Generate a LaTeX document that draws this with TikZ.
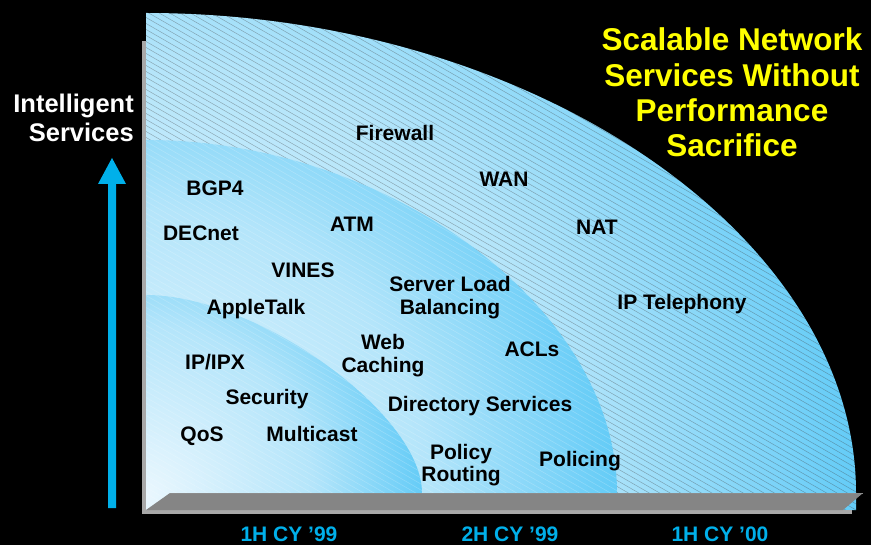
\documentclass[tikz,border=0pt]{standalone}
\usepackage{fontspec}
\setmainfont{Liberation Sans}
\definecolor{regA}{HTML}{EAF7FE}
\definecolor{regB}{HTML}{B4E5FA}
\definecolor{regC}{HTML}{62CBF7}
\definecolor{cyanarrow}{HTML}{00B0EA}
\definecolor{titleyellow}{HTML}{FFFF00}
\definecolor{floorgray}{HTML}{858585}
\definecolor{wallgray}{HTML}{A8A8A8}
\pgfdeclareradialshading{regshade}{\pgfpoint{0bp}{0bp}}{color(0bp)=(regA); color(15bp)=(regB); color(25bp)=(regC); color(50bp)=(regC)}
\begin{document}
\begin{tikzpicture}[x=1pt,y=-1pt,
  lbl/.style={font=\fontsize{21}{23}\selectfont\bfseries, text=black, anchor=base, inner sep=0pt},
  ttl/.style={font=\fontsize{31.5}{35}\selectfont\bfseries, text=titleyellow, anchor=base, inner sep=0pt},
  axl/.style={font=\fontsize{25.5}{28}\selectfont\bfseries, text=white, anchor=base east, inner sep=0pt},
  tml/.style={font=\fontsize{21}{23}\selectfont\bfseries, text=cyanarrow, anchor=base, inner sep=0pt},
  hatchdark/.style={draw=black!75, line width=0.45pt, opacity=0.4},
  hatchlight/.style={draw=white, line width=0.6pt, opacity=0.2}]
\useasboundingbox (0,0) rectangle (871,545);
\fill[black] (0,0) rectangle (871,545);
% outer region
\begin{scope}
  \clip (146,510) -- (146,13) .. controls (530,13) and (856,234) .. (856,493) -- (856,510) -- cycle;
  \shade[shading=regshade] (144,495) circle (720pt);
  \foreach \c in {-430,-424,...,515} \draw[hatchdark] (140,\c) -- ++(730,420);
\end{scope}
% middle region
\begin{scope}
  \clip (146,510) -- (146,140) .. controls (391,140) and (617,309) .. (617,493) -- (617,510) -- cycle;
  \shade[shading=regshade] (144,495) circle (475pt);
  \foreach \c in {-300,-294,...,515} \draw[hatchlight] (140,\c) -- ++(500,288);
\end{scope}
% inner region
\begin{scope}
  \clip (146,510) -- (146,295) .. controls (257,295) and (422,414) .. (422,493) -- (422,510) -- cycle;
  \shade[shading=regshade] (144,495) circle (282pt);
  \foreach \c in {100,106,...,515} \draw[hatchlight] (140,\c) -- ++(300,173);
\end{scope}
% wall and floor
\fill[wallgray] (142,41) rectangle (146,514);
\fill[wallgray] (142,510) rectangle (852,514);
\fill[floorgray] (170,493) -- (863,493) -- (843,510) -- (146,510) -- cycle;
\draw[black!45, line width=0.6pt] (170,493.3) -- (863,493.3);
% arrow
\fill[cyanarrow] (108,508) -- (108,184) -- (98,184) -- (112,158) -- (126,184) -- (116,184) -- (116,508) -- cycle;
% axis label
\node[axl] (intel1) at (134,113) {Intelligent};
\node[axl] (intel2) at (134,142) {Services};
% title
\node[ttl] (t1) at (732,51) {Scalable Network};
\node[ttl] (t2) at (732,86.5) {Services Without};
\node[ttl] (t3) at (732,121.5) {Performance};
\node[ttl] (t4) at (732,156.5) {Sacrifice};
% labels
\node[lbl] (fw) at (395,140.5) {Firewall};
\node[lbl] (bgp) at (215,195.5) {BGP4};
\node[lbl] (wan) at (504,187) {WAN};
\node[lbl] (dec) at (201,240.5) {DECnet};
\node[lbl] (atm) at (352,231.5) {ATM};
\node[lbl] (nat) at (597,235) {NAT};
\node[lbl] (vines) at (303,277.5) {VINES};
\node[lbl] (slb1) at (450,292) {Server Load};
\node[lbl] (slb2) at (450,315) {Balancing};
\node[lbl] (apple) at (256,315) {AppleTalk};
\node[lbl] (ipt) at (682,310) {IP Telephony};
\node[lbl] (web1) at (383,350) {Web};
\node[lbl] (web2) at (383,373) {Caching};
\node[lbl] (acl) at (532,357) {ACLs};
\node[lbl] (ipx) at (215,370) {IP/IPX};
\node[lbl] (sec) at (267,405) {Security};
\node[lbl] (dir) at (480,412) {Directory Services};
\node[lbl] (qos) at (202,442) {QoS};
\node[lbl] (mc) at (312,442) {Multicast};
\node[lbl] (pr1) at (461,460) {Policy};
\node[lbl] (pr2) at (461,482) {Routing};
\node[lbl] (pol) at (580,467) {Policing};
% time axis labels
\node[tml] (h1) at (289,541) {1H CY ’99};
\node[tml] (h2) at (510,541) {2H CY ’99};
\node[tml] (h3) at (720,541) {1H CY ’00};
\end{tikzpicture}
\end{document}
